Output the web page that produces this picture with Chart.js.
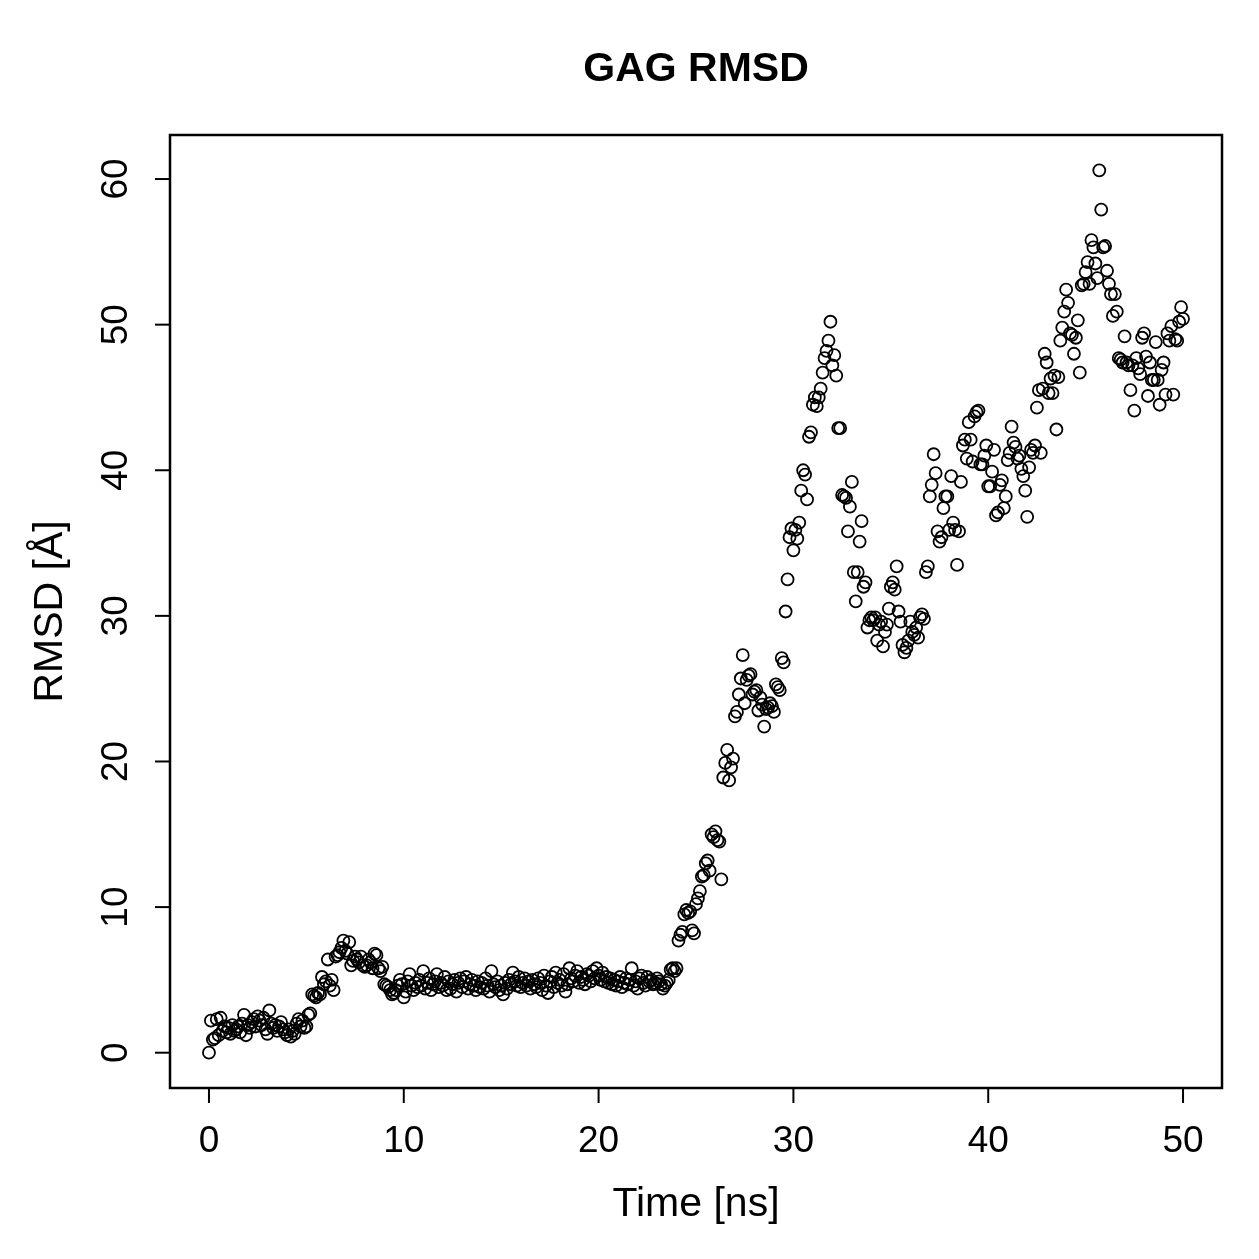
<!DOCTYPE html>
<html>
<head>
<meta charset="utf-8">
<script src="https://cdn.jsdelivr.net/npm/chart.js@4.4.1/dist/chart.umd.min.js"></script>
<style>
  html, body { margin: 0; padding: 0; background: #fff; }
  canvas { display: block; }
</style>
</head>
<body>
<canvas id="rmsd" width="1259" height="1259" style="width:1259px;height:1259px"></canvas>
<script>
// sampled every 0.1 ns, 0..50 ns
const timeStep = 0.1
const rmsd = [
  0.0, 2.2, 0.9, 1.0, 2.3, 1.2, 2.4, 1.5, 1.8, 1.4,
  1.7, 1.3, 1.9, 1.5, 1.6, 1.8, 1.4, 2.0, 2.6, 1.2,
  1.9, 1.7, 2.1, 2.3, 1.8, 2.5, 2.2, 1.9, 2.4, 1.6,
  1.3, 2.9, 2.0, 1.7, 1.9, 1.5, 1.8, 2.1, 1.6, 1.4,
  1.2, 1.6, 1.1, 1.5, 1.3, 2.0, 2.3, 1.8, 2.2, 1.7,
  1.8, 2.6, 2.7, 4.0, 3.9, 3.8, 4.1, 4.0, 5.2, 4.7,
  4.9, 6.4, 4.6, 5.0, 4.3, 6.6, 6.7, 6.9, 7.2, 7.7,
  7.0, 6.8, 7.6, 6.0, 6.3, 6.6, 6.4, 6.2, 6.6, 6.0,
  5.9, 6.0, 6.4, 6.2, 5.8, 6.8, 6.7, 5.8, 5.6, 5.9,
  4.7, 4.6, 4.5, 4.3, 4.0, 4.1, 4.3, 4.6, 5.0, 4.7,
  3.8, 4.2, 4.9, 5.4, 4.6, 4.3, 4.8, 4.5, 5.0, 4.6,
  5.6, 4.4, 4.8, 5.1, 4.3, 4.7, 4.9, 5.4, 4.5, 4.8,
  4.6, 5.2, 4.3, 4.9, 4.4, 4.7, 5.0, 4.2, 4.8, 5.1,
  4.5, 4.9, 5.2, 4.4, 4.7, 5.0, 4.6, 4.3, 4.9, 4.5,
  4.8, 4.4, 5.1, 4.6, 4.2, 5.6, 4.7, 4.5, 4.9, 4.3,
  4.6, 4.0, 4.8, 4.4, 5.0, 4.7, 5.5, 4.9, 4.6, 5.2,
  4.5, 4.8, 5.1, 4.6, 4.9, 4.4, 5.0, 4.7, 4.5, 5.1,
  4.8, 4.3, 5.3, 4.6, 4.1, 4.9, 5.2, 4.5, 5.5, 4.8,
  5.0, 4.6, 5.4, 4.2, 4.7, 5.8, 5.1, 4.9, 5.3, 5.6,
  4.8, 5.2, 5.0, 4.7, 5.4, 5.3, 4.9, 5.6, 5.1, 5.8,
  5.3, 5.0, 5.5, 4.9, 5.2, 4.8, 5.1, 4.7, 5.0, 4.6,
  4.9, 5.2, 4.5, 4.8, 5.1, 4.7, 5.0, 5.8, 4.6, 4.9,
  4.4, 5.1, 5.3, 4.8, 4.6, 5.2, 4.9, 5.0, 4.7, 4.8,
  5.1, 4.9, 4.7, 4.4, 4.6, 4.8, 5.0, 5.7, 5.8, 5.6,
  5.8, 7.7, 8.1, 8.3, 9.5, 9.8, 9.6, 9.7, 8.4, 8.2,
  10.2, 10.6, 11.1, 12.1, 12.2, 13.0, 13.2, 12.5, 15.0, 14.8,
  15.2, 14.6, 14.5, 11.9, 18.9, 19.9, 20.8, 18.7, 19.6, 20.2,
  23.1, 23.4, 24.6, 25.7, 27.3, 24.0, 25.6, 25.9, 26.0, 24.6,
  24.8, 24.9, 23.5, 24.4, 23.9, 22.4, 23.6, 23.7, 24.0, 23.8,
  23.4, 25.3, 25.1, 24.9, 27.1, 26.8, 30.3, 32.5, 35.4, 36.0,
  34.5, 35.9, 35.3, 36.4, 38.6, 40.0, 39.7, 38.0, 42.3, 42.6,
  44.5, 45.0, 44.4, 45.0, 45.6, 46.7, 47.7, 48.2, 48.9, 50.2,
  47.2, 47.9, 46.5, 42.9, 42.9, 38.3, 38.2, 38.1, 35.8, 37.5,
  39.2, 33.0, 31.0, 33.0, 35.1, 36.5, 32.0, 32.3, 29.2, 29.7,
  29.9, 29.7, 29.9, 28.3, 29.4, 29.6, 27.9, 28.9, 29.4, 30.5,
  32.0, 32.3, 31.8, 33.4, 30.3, 29.6, 28.0, 27.5, 27.8, 28.3,
  29.6, 28.9, 28.7, 29.2, 28.5, 29.9, 30.1, 29.8, 33.0, 33.4,
  38.2, 39.0, 41.1, 39.8, 35.8, 35.1, 35.4, 37.4, 38.2, 38.2,
  35.9, 39.6, 36.4, 35.9, 33.5, 35.8, 39.2, 41.7, 42.1, 40.8,
  43.3, 42.1, 40.6, 43.7, 44.0, 44.1, 40.4, 40.4, 41.0, 41.7,
  38.9, 38.9, 39.9, 41.4, 36.9, 37.1, 39.0, 39.3, 37.4, 38.2,
  40.7, 41.2, 43.0, 41.9, 41.6, 40.8, 41.0, 40.1, 39.6, 38.6,
  36.8, 40.2, 41.4, 41.2, 41.7, 44.3, 45.5, 41.2, 45.6, 48.0,
  47.4, 45.3, 46.3, 45.3, 46.5, 42.8, 46.4, 48.9, 49.8, 50.9,
  52.4, 51.5, 49.4, 49.3, 48.0, 49.1, 50.3, 46.7, 52.7, 52.8,
  53.6, 54.3, 52.8, 55.8, 55.3, 54.2, 53.2, 60.6, 57.9, 55.3,
  55.4, 53.7, 52.8, 52.1, 50.6, 52.1, 50.9, 47.7, 47.6, 47.4,
  49.2, 47.4, 47.2, 45.5, 47.2, 44.1, 47.7, 47.0, 46.6, 49.1,
  49.4, 47.8, 45.1, 47.4, 46.2, 46.2, 48.8, 46.2, 44.5, 46.9,
  47.4, 45.2, 49.4, 48.9, 49.9, 45.2, 49.0, 48.9, 50.2, 51.2,
  50.4
]
const xTicks = [0, 10, 20, 30, 40, 50]
const yTicks = [0, 10, 20, 30, 40, 50, 60]

const title = 'GAG RMSD'
const xLabel = 'Time [ns]'
const yLabel = 'RMSD [Å]'

const points = rmsd.map((v, i) => ({ x: Math.round(i * timeStep * 10) / 10, y: v }))

// R pads the data range by 4% on each side
const xMin = 0; const xMax = 50
const yMin = 0; const yMax = Math.max(...rmsd)
const xPad = (xMax - xMin) * 0.04
const yPad = (yMax - yMin) * 0.04

const FONT = '"Liberation Sans", Arial, Helvetica, sans-serif'

// draws the base-graphics style box, ticks and labels
const baseAxes = {
  id: 'baseAxes',
  afterDraw (chart) {
    const { ctx, chartArea: a, scales } = chart
    const sx = scales.x
    const sy = scales.y
    ctx.save()
    ctx.strokeStyle = '#000'
    ctx.fillStyle = '#000'
    ctx.lineWidth = 2.5
    ctx.strokeRect(a.left, a.top, a.right - a.left, a.bottom - a.top)

    const tickLen = 15
    ctx.lineWidth = 2
    ctx.font = '37px ' + FONT
    ctx.textAlign = 'center'
    ctx.textBaseline = 'middle'
    xTicks.forEach(t => {
      const px = sx.getPixelForValue(t)
      ctx.beginPath()
      ctx.moveTo(px, a.bottom)
      ctx.lineTo(px, a.bottom + tickLen)
      ctx.stroke()
      ctx.fillText(String(t), px, a.bottom + 54)
    })
    yTicks.forEach(t => {
      const py = sy.getPixelForValue(t)
      ctx.beginPath()
      ctx.moveTo(a.left, py)
      ctx.lineTo(a.left - tickLen, py)
      ctx.stroke()
      ctx.save()
      ctx.translate(a.left - 53, py)
      ctx.rotate(-Math.PI / 2)
      ctx.fillText(String(t), 0, 0)
      ctx.restore()
    })

    ctx.font = '41px ' + FONT
    ctx.fillText(xLabel, (a.left + a.right) / 2, a.bottom + 117)
    ctx.save()
    ctx.translate(a.left - 119, (a.top + a.bottom) / 2)
    ctx.rotate(-Math.PI / 2)
    ctx.fillText(yLabel, 0, 0)
    ctx.restore()

    ctx.font = 'bold 41px ' + FONT
    ctx.fillText(title, (a.left + a.right) / 2, 70)
    ctx.restore()
  }
}

const ctx = document.getElementById('rmsd').getContext('2d')
const chart = new Chart(ctx, {
  type: 'scatter',
  data: {
    datasets: [{
      data: points,
      pointStyle: 'circle',
      pointRadius: 6,
      borderColor: '#000',
      backgroundColor: 'rgba(0,0,0,0)',
      borderWidth: 1.8
    }]
  },
  options: {
    responsive: false,
    animation: false,
    events: [],
    layout: { padding: { left: 170, top: 135, right: 37, bottom: 171 } },
    plugins: {
      legend: { display: false },
      tooltip: { enabled: false }
    },
    scales: {
      x: { type: 'linear', min: xMin - xPad, max: xMax + xPad, display: false },
      y: { type: 'linear', min: yMin - yPad, max: yMax + yPad, display: false }
    }
  },
  plugins: [baseAxes]
})
</script>
</body>
</html>
